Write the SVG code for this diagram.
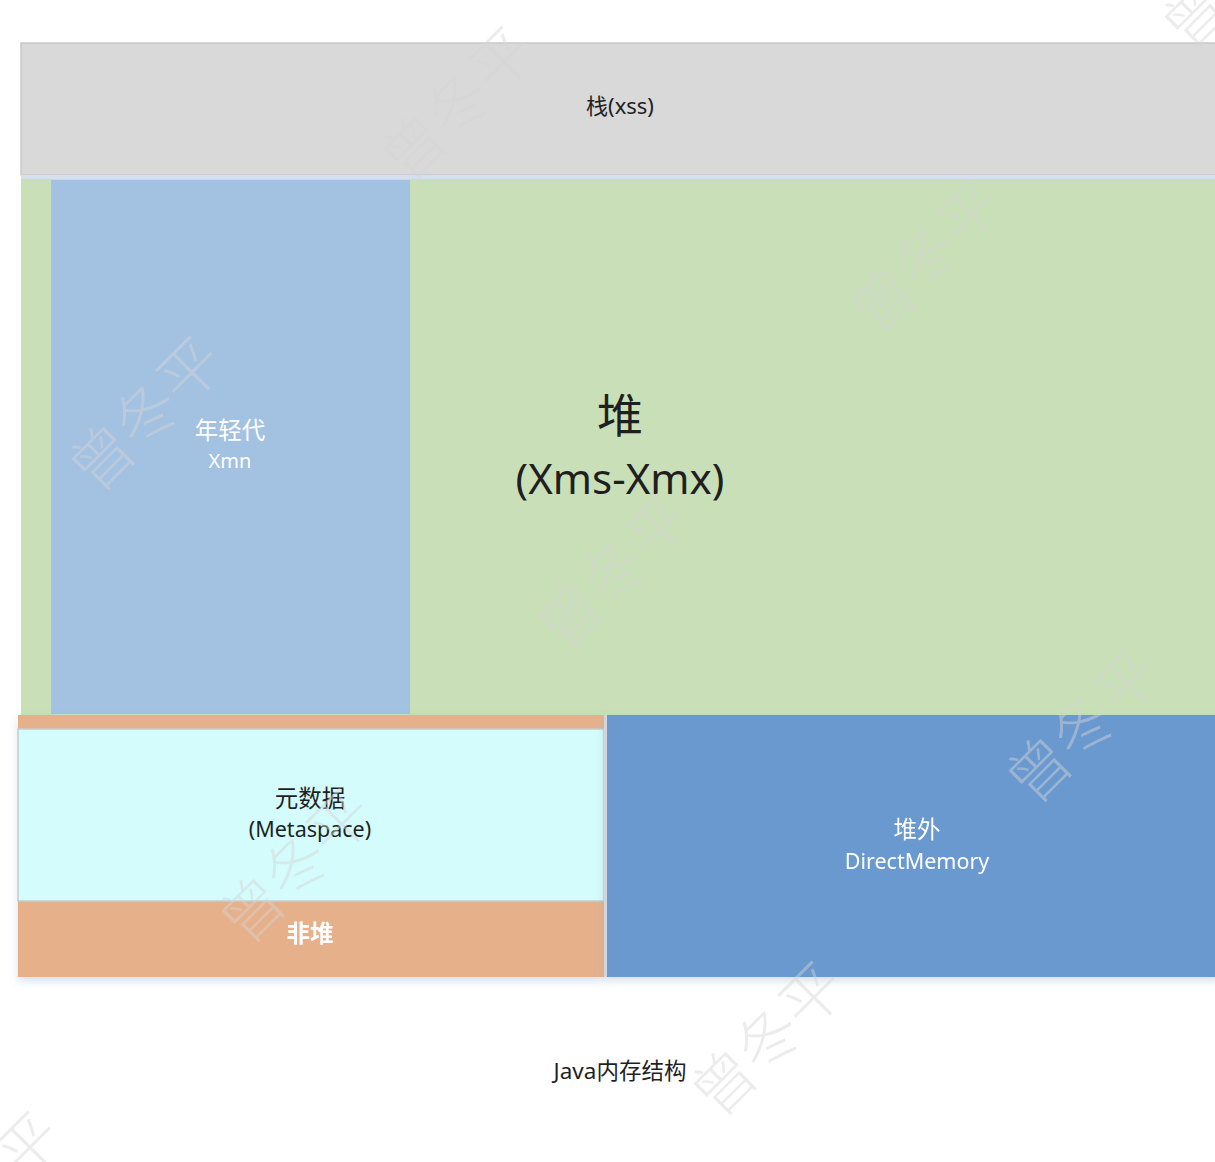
<svg xmlns="http://www.w3.org/2000/svg" width="1215" height="1162" viewBox="0 0 1215 1162">
  <style>
    .t { font-family: "Noto Sans", "Noto Sans CJK SC", sans-serif; text-anchor: middle; }
    .dark { fill: #1f1f1f; }
    .light { fill: #ffffff; }
    .lat { font-size: 21.5px; }
    .cjk { font-size: 23.5px; }
    .wm { font-family: "Noto Sans CJK SC", sans-serif; font-size: 62px; fill: #d6d6d6; opacity: 0.45; text-anchor: middle; font-weight: 300; }
  </style>
  <defs>
    <filter id="sh" x="-5%" y="-5%" width="110%" height="115%">
      <feDropShadow dx="0" dy="4" stdDeviation="4" flood-color="#8fa6c8" flood-opacity="0.35"/>
    </filter>
  </defs>
  <rect width="1215" height="1162" fill="#ffffff"/>

  <g id="stack">
    <rect x="21" y="43" width="1200" height="132" fill="#d9d9d9" stroke="#c9c9c9" stroke-width="1.5"/>
    <rect x="21" y="175" width="1200" height="4" fill="#d6dfee"/>
    <text class="t dark" x="620" y="114" font-size="22">栈(xss)</text>
  </g>

  <g id="heap">
    <rect x="21" y="179" width="1200" height="536" fill="#c9dfb7"/>
    <text class="t dark" x="620" y="432" font-size="46">堆</text>
    <text class="t dark" x="620" y="494" font-size="42">(Xms-Xmx)</text>
  </g>

  <g id="young">
    <rect x="51" y="180" width="359" height="534" fill="#a3c1e1"/>
    <text class="t light cjk" x="230" y="439">年轻代</text>
    <text class="t light" x="230" y="468" font-size="20">Xmn</text>
  </g>

  <g id="nonheap" filter="url(#sh)">
    <rect x="18" y="715" width="586" height="262" fill="#e6b18a"/>
    <text class="t light cjk" x="310" y="942" font-weight="bold">非堆</text>
  </g>

  <g id="metaspace">
    <rect x="18" y="729" width="586" height="172" fill="#d4fcfc" stroke="#c8cccc" stroke-width="1.5"/>
    <text class="t dark cjk" x="310" y="807">元数据</text>
    <text class="t dark lat" x="310" y="837">(Metaspace)</text>
  </g>

  <g id="direct" filter="url(#sh)">
    <rect x="604" y="715" width="3" height="262" fill="#d2d6dc"/>
    <rect x="607" y="715" width="614" height="262" fill="#6a99cf"/>
    <text class="t light cjk" x="917" y="838">堆外</text>
    <text class="t light lat" x="917" y="869">DirectMemory</text>
  </g>

  <g id="connectors"></g>

  <g id="caption">
    <text class="t dark" x="620" y="1079" font-size="22.5">Java内存结构</text>
  </g>

  <g id="watermarks">
    <text class="wm" transform="translate(474,120) rotate(-45)">曾冬平</text>
    <text class="wm" transform="translate(942,272) rotate(-45)">曾冬平</text>
    <text class="wm" transform="translate(162,430) rotate(-45)">曾冬平</text>
    <text class="wm" transform="translate(630,587) rotate(-45)">曾冬平</text>
    <text class="wm" transform="translate(312,882) rotate(-45)">曾冬平</text>
    <text class="wm" transform="translate(1099,742) rotate(-45)">曾冬平</text>
    <text class="wm" transform="translate(784,1055) rotate(-45)">曾冬平</text>
    <text class="wm" transform="translate(0,1205) rotate(-45)">曾冬平</text>
    <text class="wm" transform="translate(1255,-12) rotate(-45)">曾冬平</text>
  </g>
</svg>
